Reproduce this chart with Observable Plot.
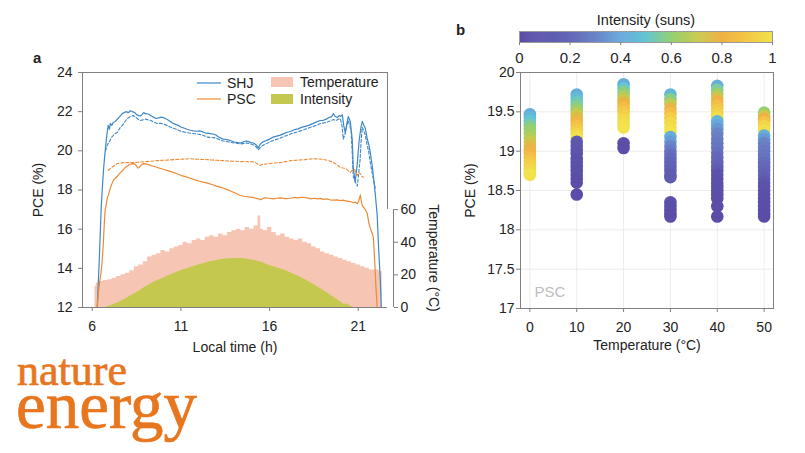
<!DOCTYPE html>
<html>
<head>
<meta charset="utf-8">
<script src="https://cdn.jsdelivr.net/npm/d3@7"></script>
<script src="https://cdn.jsdelivr.net/npm/@observablehq/plot@0.6"></script>
<style>
  body { margin: 0; background: #fff; }
  #fig { position: relative; width: 805px; height: 453px; overflow: hidden; background: #fff;
         font-family: "Liberation Sans", Arial, sans-serif; color: #222; }
  #fig > * { position: absolute; }
</style>
</head>
<body>
<div id="fig"></div>
<script>
// ---------- Panel a: outdoor PCE over one day ----------
// [local time (h), PCE (%)]
const shj = [[6.28,12],[6.4,14.5],[6.5,17.0],[6.56,18.0],[6.65,19.2],[6.73,20.0],[6.82,20.8],[6.9,21.3],[6.97,21.1],[7.02,21.4],[7.1,21.3],[7.18,21.45],[7.3,21.5],[7.4,21.6],[7.55,21.75],[7.69,21.9],[7.8,21.95],[7.9,22.0],[8.05,21.95],[8.15,22.05],[8.26,22.0],[8.4,21.95],[8.5,21.85],[8.62,21.8],[8.71,21.78],[8.8,21.85],[8.9,21.95],[9.0,21.9],[9.16,21.88],[9.3,21.8],[9.45,21.72],[9.6,21.65],[9.75,21.68],[9.9,21.72],[10.05,21.68],[10.23,21.6],[10.4,21.5],[10.57,21.4],[10.7,21.35],[10.85,21.3],[11.0,21.22],[11.2,21.15],[11.35,21.1],[11.53,21.05],[11.7,21.02],[11.9,21.0],[12.05,21.02],[12.2,20.98],[12.35,20.92],[12.49,20.9],[12.65,20.88],[12.8,20.86],[12.95,20.82],[13.1,20.72],[13.25,20.65],[13.39,20.6],[13.55,20.58],[13.7,20.55],[13.85,20.5],[14.0,20.45],[14.2,20.42],[14.35,20.4],[14.5,20.45],[14.65,20.5],[14.8,20.48],[14.95,20.42],[15.1,20.4],[15.25,20.3],[15.36,20.15],[15.45,20.3],[15.6,20.45],[15.8,20.52],[16.0,20.6],[16.2,20.7],[16.4,20.75],[16.6,20.8],[16.8,20.88],[17.0,20.95],[17.2,21.0],[17.4,21.08],[17.6,21.12],[17.8,21.2],[18.0,21.25],[18.2,21.3],[18.46,21.4],[18.65,21.48],[18.86,21.55],[19.0,21.55],[19.2,21.62],[19.35,21.7],[19.5,21.75],[19.6,21.9],[19.7,21.75],[19.82,21.7],[19.92,21.8],[20.0,21.75],[20.1,21.85],[20.18,21.3],[20.27,20.9],[20.36,21.4],[20.44,21.75],[20.55,21.5],[20.66,20.6],[20.72,19.1],[20.83,18.4],[20.95,19.4],[21.05,20.5],[21.15,21.2],[21.23,21.5],[21.32,21.3],[21.4,21.15],[21.51,20.6],[21.6,20.3],[21.68,19.9],[21.78,19.3],[21.85,18.75],[21.96,17.8],[22.07,16.7],[22.15,15.0],[22.24,13.5],[22.3,12]];
const shjDashed = [[6.75,20.0],[6.85,20.3],[6.95,20.45],[7.1,20.7],[7.25,20.85],[7.41,20.95],[7.55,21.15],[7.7,21.3],[7.85,21.5],[7.97,21.65],[8.15,21.75],[8.31,21.8],[8.45,21.72],[8.6,21.6],[8.71,21.55],[8.85,21.58],[9.0,21.62],[9.15,21.58],[9.3,21.55],[9.5,21.45],[9.67,21.4],[9.85,21.4],[10.0,21.38],[10.2,21.3],[10.4,21.22],[10.57,21.15],[10.8,21.08],[11.0,21.0],[11.25,20.95],[11.53,20.9],[11.8,20.87],[12.0,20.85],[12.25,20.8],[12.49,20.7],[12.75,20.68],[13.0,20.65],[13.2,20.55],[13.39,20.5],[13.7,20.45],[14.0,20.4],[14.35,20.35],[14.55,20.38],[14.74,20.4],[14.95,20.35],[15.1,20.3],[15.25,20.2],[15.36,20.05],[15.5,20.2],[15.65,20.3],[15.85,20.38],[16.0,20.45],[16.3,20.55],[16.6,20.65],[16.8,20.72],[17.0,20.8],[17.25,20.88],[17.5,20.95],[17.75,21.02],[18.0,21.1],[18.25,21.18],[18.46,21.25],[18.7,21.32],[18.86,21.4],[19.05,21.42],[19.2,21.45],[19.4,21.52],[19.6,21.6],[19.75,21.55],[19.9,21.62],[19.99,21.65],[20.08,21.3],[20.16,20.6],[20.27,20.9],[20.36,21.3],[20.44,21.55],[20.52,21.3],[20.6,21.0],[20.66,19.9],[20.72,18.7],[20.84,18.4],[20.95,18.2],[21.03,18.9],[21.1,19.5],[21.17,20.6],[21.23,21.2],[21.32,21.0],[21.4,20.8],[21.5,20.3],[21.6,19.9],[21.68,19.4],[21.8,18.8],[21.96,18.1]];
const psc = [[6.28,12],[6.35,12.8],[6.42,13.3],[6.5,13.8],[6.56,14.4],[6.62,15.2],[6.68,16.3],[6.73,17.0],[6.8,17.3],[6.85,17.6],[6.93,17.8],[7.02,18.1],[7.1,18.3],[7.2,18.5],[7.3,18.6],[7.41,18.7],[7.5,18.8],[7.6,18.9],[7.72,19.0],[7.86,19.15],[7.98,19.22],[8.1,19.3],[8.2,19.33],[8.31,19.35],[8.4,19.33],[8.48,19.25],[8.56,19.12],[8.64,19.15],[8.71,19.22],[8.8,19.3],[8.88,19.35],[9.0,19.33],[9.16,19.3],[9.3,19.25],[9.5,19.2],[9.67,19.15],[9.85,19.1],[10.0,19.06],[10.2,19.0],[10.4,18.95],[10.57,18.9],[10.8,18.82],[11.0,18.75],[11.25,18.68],[11.53,18.6],[11.75,18.53],[12.0,18.46],[12.25,18.4],[12.49,18.35],[12.75,18.28],[13.0,18.2],[13.2,18.15],[13.39,18.1],[13.6,18.02],[13.8,17.95],[14.05,17.85],[14.35,17.72],[14.55,17.68],[14.8,17.65],[15.05,17.62],[15.36,17.55],[15.5,17.5],[15.7,17.6],[15.95,17.58],[16.21,17.55],[16.4,17.58],[16.6,17.6],[16.9,17.56],[17.17,17.58],[17.4,17.62],[17.6,17.6],[17.85,17.63],[18.13,17.6],[18.3,17.55],[18.5,17.58],[18.7,17.55],[18.86,17.57],[19.05,17.52],[19.2,17.55],[19.4,17.5],[19.6,17.48],[19.8,17.5],[19.99,17.46],[20.15,17.48],[20.3,17.44],[20.45,17.42],[20.6,17.4],[20.72,17.35],[20.83,17.38],[20.95,17.3],[21.05,17.5],[21.12,17.75],[21.18,17.4],[21.23,17.2],[21.32,17.1],[21.4,17.0],[21.51,16.8],[21.6,16.3],[21.7,16.0],[21.85,15.6],[21.95,14.0],[22.0,13.0],[22.07,12]];
const pscDashed = [[6.9,19.0],[7.0,19.08],[7.1,19.15],[7.25,19.25],[7.41,19.35],[7.6,19.38],[7.8,19.4],[8.05,19.4],[8.31,19.4],[8.6,19.42],[9.0,19.45],[9.3,19.47],[9.67,19.5],[10.0,19.52],[10.3,19.53],[10.57,19.55],[11.0,19.57],[11.25,19.58],[11.53,19.6],[11.8,19.58],[12.0,19.57],[12.25,19.56],[12.5,19.55],[12.75,19.53],[13.0,19.52],[13.39,19.5],[13.7,19.48],[14.0,19.47],[14.35,19.45],[14.6,19.46],[14.8,19.44],[15.0,19.45],[15.2,19.4],[15.36,19.3],[15.48,19.25],[15.6,19.3],[15.8,19.33],[16.0,19.35],[16.3,19.38],[16.6,19.4],[16.9,19.45],[17.2,19.5],[17.5,19.52],[17.8,19.54],[18.0,19.55],[18.25,19.58],[18.5,19.6],[18.8,19.58],[19.03,19.56],[19.25,19.52],[19.5,19.45],[19.7,19.35],[19.85,19.25],[19.99,19.15],[20.15,19.12],[20.3,19.1],[20.42,19.0],[20.55,18.9],[20.66,19.0],[20.8,19.05],[20.88,18.85],[20.95,18.75],[21.03,18.9],[21.1,18.85],[21.2,18.7],[21.3,18.65]];
// [local time (h), module temperature (°C)]
const temperature = [[6.15,13],[6.3,15],[6.5,16],[6.75,16.5],[7.0,17],[7.25,18],[7.5,19],[7.75,20],[8.0,21],[8.25,22.5],[8.5,25],[8.75,26],[9.0,28],[9.25,31],[9.5,32],[9.75,33],[10.0,35],[10.25,34],[10.5,36],[10.75,37],[11.0,38],[11.25,40],[11.5,39],[11.75,41],[12.0,42],[12.25,41],[12.5,43],[12.75,44],[13.0,43],[13.25,45],[13.5,44],[13.75,46],[14.0,47],[14.25,48],[14.5,47],[14.75,49],[15.0,48],[15.25,50],[15.45,56],[15.55,48],[15.75,47],[16.0,49],[16.25,46],[16.5,44],[16.75,45],[17.0,43],[17.25,42],[17.5,41],[17.75,42],[18.0,40],[18.25,39],[18.5,37],[18.75,36],[19.0,34],[19.25,33],[19.5,32],[19.75,31],[20.0,30],[20.25,29],[20.5,28],[20.75,27],[21.0,26],[21.25,25],[21.5,24],[21.75,23],[22.0,23],[22.35,22]];
// [local time (h), irradiance (suns)]
const intensity = [[6.7,0],[7.0,0.03],[7.5,0.1],[8.0,0.2],[8.5,0.3],[9.0,0.42],[9.5,0.52],[10.0,0.6],[10.5,0.68],[11.0,0.75],[11.5,0.81],[12.0,0.87],[12.5,0.92],[13.0,0.96],[13.5,0.99],[14.0,1.0],[14.5,1.0],[15.0,0.97],[15.5,0.93],[16.0,0.86],[16.5,0.8],[17.0,0.74],[17.5,0.66],[18.0,0.57],[18.5,0.47],[19.0,0.36],[19.5,0.24],[19.8,0.17],[20.0,0.12],[20.2,0.06],[20.4,0.07],[20.55,0.03],[20.75,0]];

const hourTicks = [6, 11, 16, 21];
const pceTicksA = [12, 14, 16, 18, 20, 22, 24];
const tempTicks = [0, 20, 40, 60];

// ---------- Panel b: PSC PCE vs temperature, coloured by intensity ----------
// [PCE (%), intensity (suns)] for each chamber temperature
const psc0C  = [[19.47,0.42],[19.43,0.45],[19.38,0.5],[19.33,0.55],[19.28,0.6],[19.22,0.62],[19.17,0.66],[19.12,0.7],[19.07,0.75],[19.02,0.78],[18.97,0.82],[18.92,0.86],[18.87,0.9],[18.82,0.93],[18.77,0.96],[18.72,0.98],[18.7,1.0]];
const psc10C = [[19.72,0.42],[19.67,0.47],[19.62,0.52],[19.57,0.57],[19.52,0.62],[19.47,0.7],[19.42,0.76],[19.37,0.82],[19.32,0.88],[19.27,0.92],[19.22,0.96],[19.17,1.0],[19.12,0.12],[19.07,0.1],[19.02,0.08],[18.97,0.07],[18.9,0.05],[18.85,0.05],[18.8,0.04],[18.75,0.03],[18.7,0.03],[18.65,0.02],[18.6,0.02],[18.45,0.01]];
const psc20C = [[19.85,0.42],[19.8,0.5],[19.75,0.58],[19.7,0.64],[19.65,0.72],[19.6,0.8],[19.55,0.86],[19.5,0.9],[19.45,0.93],[19.4,0.96],[19.35,0.98],[19.3,1.0],[19.1,0.03],[19.04,0.02]];
const psc30C = [[19.72,0.45],[19.66,0.58],[19.6,0.68],[19.54,0.78],[19.48,0.86],[19.42,0.92],[19.36,0.96],[19.3,0.98],[19.25,1.0],[19.18,0.42],[19.12,0.36],[19.06,0.3],[19.0,0.26],[18.95,0.22],[18.9,0.2],[18.85,0.18],[18.8,0.16],[18.75,0.15],[18.7,0.13],[18.67,0.12],[18.35,0.04],[18.3,0.03],[18.25,0.03],[18.2,0.02],[18.17,0.02]];
const psc40C = [[19.83,0.42],[19.78,0.55],[19.73,0.62],[19.68,0.72],[19.63,0.8],[19.58,0.86],[19.53,0.9],[19.48,0.94],[19.43,0.98],[19.38,0.45],[19.33,0.4],[19.28,0.35],[19.22,0.3],[19.16,0.28],[19.1,0.26],[19.04,0.25],[18.98,0.23],[18.92,0.2],[18.86,0.18],[18.8,0.16],[18.75,0.12],[18.7,0.06],[18.65,0.05],[18.6,0.04],[18.55,0.04],[18.5,0.03],[18.45,0.03],[18.4,0.02],[18.3,0.02],[18.17,0.01]];
const psc50C = [[19.49,0.6],[19.45,0.7],[19.41,0.8],[19.37,0.88],[19.32,0.95],[19.27,0.98],[19.2,0.42],[19.15,0.36],[19.1,0.3],[19.05,0.28],[19.0,0.26],[18.95,0.25],[18.9,0.24],[18.85,0.22],[18.8,0.2],[18.75,0.18],[18.7,0.16],[18.65,0.14],[18.6,0.1],[18.55,0.06],[18.5,0.05],[18.45,0.04],[18.4,0.03],[18.35,0.03],[18.3,0.02],[18.25,0.02],[18.2,0.01],[18.17,0.01]];
const chamberTemps = [0, 10, 20, 30, 40, 50];
const pceTicksB = [17, 17.5, 18, 18.5, 19, 19.5, 20];
const sunsTicks = [0, 0.2, 0.4, 0.6, 0.8, 1];
const sunsColors = ["#5a4ca6","#5e58ad","#6468b8","#6a84c8","#66a8dc","#64c6d2","#94d072","#c8ca4c","#f0b044","#f3c846","#f2e24c"];

// ---------- shared styling ----------
const font = '"Liberation Sans", Arial, sans-serif';
const axisGrey = "#808080";
const shjBlue = "#3f87c6";
const pscOrange = "#ee8a33";
const baseStyle = {background: "transparent", fontFamily: font, fontSize: "14px", color: "#222", overflow: "visible"};

// temperature (0–144 °C) and irradiance share the 12–24 % axis range
const tempToPce = t => 12 + t / 12;
const sunsToPce = s => 12 + s * 2.5;
const hourDomain = [5.45, 22.65];

const fig = document.getElementById("fig");

const label = (txt, opts) => Plot.text([txt], {text: d => d, lineAnchor: "middle", textAnchor: "middle", fill: "#222", ...opts});

const panelA = Plot.plot({
  width: 450, height: 360,
  marginLeft: 82, marginRight: 63, marginTop: 72, marginBottom: 53,
  style: baseStyle,
  x: {domain: hourDomain},
  y: {domain: [12, 24]},
  marks: [
    Plot.areaY(temperature, {x: d => d[0], y1: 12, y2: d => tempToPce(d[1]), curve: "step", fill: "#f6c5b4"}),
    Plot.areaY(intensity, {x: d => d[0], y1: 12, y2: d => sunsToPce(d[1]), fill: "#c5c84e"}),
    Plot.line(shjDashed, {x: d => d[0], y: d => d[1], stroke: shjBlue, strokeWidth: 1.1, strokeDasharray: "3,2"}),
    Plot.line(shj, {x: d => d[0], y: d => d[1], stroke: shjBlue, strokeWidth: 1.2}),
    Plot.line(pscDashed, {x: d => d[0], y: d => d[1], stroke: pscOrange, strokeWidth: 1.1, strokeDasharray: "3,2"}),
    Plot.line(psc, {x: d => d[0], y: d => d[1], stroke: pscOrange, strokeWidth: 1.2}),
    // box: left, top, bottom and the upper part of the right side
    Plot.ruleX([hourDomain[0]], {stroke: axisGrey}),
    Plot.ruleY([24], {stroke: axisGrey}),
    Plot.ruleY([12], {stroke: axisGrey}),
    Plot.ruleX([hourDomain[1]], {y1: tempToPce(60), y2: 24, stroke: axisGrey}),
    // offset temperature axis
    Plot.ruleX([hourDomain[1]], {y1: 12, y2: tempToPce(60), dx: 6, stroke: axisGrey}),
    Plot.axisY(pceTicksA, {anchor: "left", tickSize: 4, tickPadding: 6, stroke: axisGrey, fill: "#222", label: null}),
    Plot.axisX(hourTicks, {anchor: "bottom", tickSize: 4, tickPadding: 10, stroke: axisGrey, fill: "#222", label: null}),
    Plot.axisY(tempTicks.map(tempToPce), {anchor: "right", dx: 6, tickSize: 4, tickPadding: 3, stroke: axisGrey, fill: "#222",
      tickFormat: d => String(Math.round((d - 12) * 12)), label: null}),
    label("Local time (h)", {frameAnchor: "bottom", dy: 40}),
    label("PCE (%)", {frameAnchor: "left", dx: -44, rotate: -90}),
    label("Temperature (°C)", {frameAnchor: "right", dx: 46, dy: 68, rotate: 90})
  ]
});
panelA.style.left = "0px"; panelA.style.top = "0px";
fig.appendChild(panelA);

const scatter = [psc0C, psc10C, psc20C, psc30C, psc40C, psc50C]
  .flatMap((pts, i) => pts.map(([pce, suns]) => ({temp: chamberTemps[i], pce, suns})));
const sunsColor = {type: "linear", domain: [0, 1], interpolate: d3.piecewise(d3.interpolateRgb, sunsColors)};

const panelB = Plot.plot({
  width: 355, height: 360,
  marginLeft: 70, marginRight: 32, marginTop: 72, marginBottom: 52,
  style: baseStyle,
  x: {domain: [-2, 52]},
  y: {domain: [17, 20]},
  color: sunsColor,
  marks: [
    Plot.gridX(chamberTemps, {stroke: "#ececec", strokeOpacity: 1}),
    Plot.gridY(pceTicksB, {stroke: "#ececec", strokeOpacity: 1}),
    Plot.dot(scatter, {x: "temp", y: "pce", fill: "suns", r: 6.3}),
    Plot.frame({stroke: axisGrey}),
    Plot.axisY(pceTicksB, {anchor: "left", tickSize: 4, tickPadding: 2, stroke: axisGrey, fill: "#222", tickFormat: d => String(d), label: null}),
    Plot.axisX(chamberTemps, {anchor: "bottom", tickSize: 4, tickPadding: 10, stroke: axisGrey, fill: "#222", label: null}),
    label("Temperature (°C)", {frameAnchor: "bottom", dy: 37}),
    label("PCE (%)", {frameAnchor: "left", dx: -50, rotate: -90}),
    label("PSC", {frameAnchor: "bottom-left", dx: 14, dy: -16, textAnchor: "start", fill: "#bdbdbd", fontSize: 15})
  ]
});
panelB.style.left = "450px"; panelB.style.top = "0px";
fig.appendChild(panelB);

// colour bar for irradiance
const rampStep = 0.004;
const colorBar = Plot.plot({
  width: 355, height: 70,
  marginLeft: 69, marginRight: 33, marginTop: 31, marginBottom: 28,
  style: baseStyle,
  x: {domain: [0, 1]},
  color: sunsColor,
  marks: [
    Plot.rect(d3.range(0, 1, rampStep), {x1: d => d, x2: d => Math.min(1, d + rampStep * 1.6), fill: d => d}),
    Plot.frame({stroke: "#9a9a9a"}),
    Plot.axisX(sunsTicks, {anchor: "bottom", tickSize: 3, tickPadding: 7, stroke: axisGrey, fill: "#222",
      tickFormat: d => String(d), fontSize: 15, label: null}),
    label("Intensity (suns)", {frameAnchor: "top", dy: -11, fontSize: 14.5})
  ]
});
colorBar.style.left = "450px"; colorBar.style.top = "0px";
fig.appendChild(colorBar);

// panel letters, legend and journal wordmark
const overlay = d3.select(fig).append("svg")
  .attr("width", 805).attr("height", 453)
  .style("left", "0px").style("top", "0px").style("pointer-events", "none")
  .attr("font-family", font).attr("fill", "#222");
overlay.append("text").attr("x", 33).attr("y", 63).attr("font-size", 15).attr("font-weight", "bold").text("a");
overlay.append("text").attr("x", 456).attr("y", 35).attr("font-size", 15).attr("font-weight", "bold").text("b");

const legendLines = [{label: "SHJ", color: shjBlue, y: 83}, {label: "PSC", color: pscOrange, y: 99}];
const legendFills = [{label: "Temperature", color: "#f6c5b4", y: 82}, {label: "Intensity", color: "#c5c84e", y: 99}];
for (const l of legendLines) {
  overlay.append("line").attr("x1", 197).attr("x2", 221).attr("y1", l.y).attr("y2", l.y)
    .attr("stroke", l.color).attr("stroke-width", 1.2);
  overlay.append("text").attr("x", 227).attr("y", l.y + 5).attr("font-size", 14).text(l.label);
}
for (const l of legendFills) {
  overlay.append("rect").attr("x", 271).attr("y", l.y - 5).attr("width", 22).attr("height", 10).attr("fill", l.color);
  overlay.append("text").attr("x", 300).attr("y", l.y + 5).attr("font-size", 14).text(l.label);
}

const wordmark = overlay.append("g").attr("font-family", '"Liberation Serif", "DejaVu Serif", serif')
  .attr("fill", "#e8761e").attr("stroke", "#e8761e").attr("stroke-width", 0.7);
wordmark.append("text").attr("x", 17).attr("y", 385).attr("font-size", 44).text("nature");
wordmark.append("text").attr("x", 16).attr("y", 428).attr("font-size", 67).text("energy");
</script>
</body>
</html>
